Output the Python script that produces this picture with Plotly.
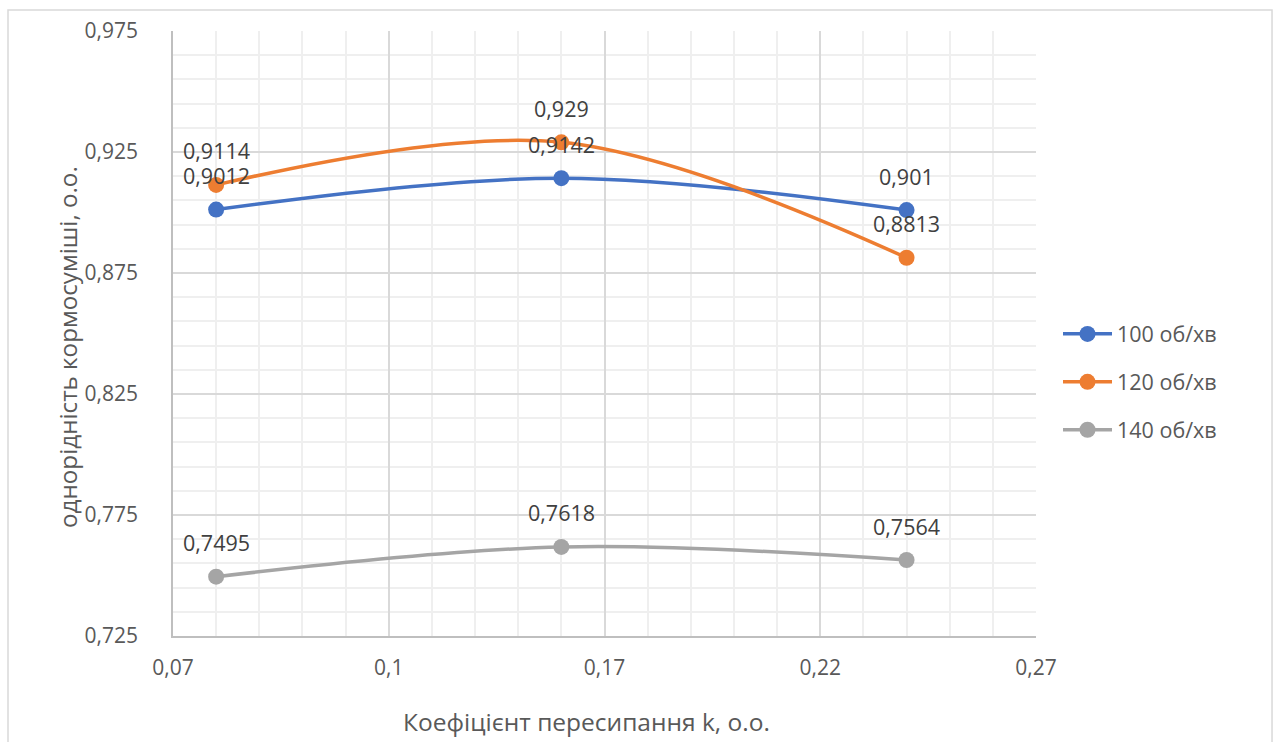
import plotly.graph_objects as go

# Coefficient of re-pouring k (x) and mixture homogeneity (y) for three rotor speeds
k_values = [0.08, 0.16, 0.24]
series_names = ["100 об/хв", "120 об/хв", "140 об/хв"]
homog_100 = [0.9012, 0.9142, 0.901]
homog_120 = [0.9114, 0.929, 0.8813]
homog_140 = [0.7495, 0.7618, 0.7564]

x_tick_vals = [0.07, 0.12, 0.17, 0.22, 0.27]
x_tick_text = ["0,07", "0,1", "0,17", "0,22", "0,27"]

x_title = "Коефіцієнт пересипання k, о.о."
y_title = "однорідність кормосуміші, о.о."

colors = ["#4472C4", "#ED7D31", "#A5A5A5"]
FONT = "Open Sans, Noto Sans, sans-serif"
TEXT_COLOR = "#595959"
LABEL_COLOR = "#404040"


def fmt(v):
    return f"{v:g}".replace(".", ",")


fig = go.Figure()
for i, (name, ys) in enumerate(zip(series_names, [homog_100, homog_120, homog_140])):
    fig.add_trace(go.Scatter(
        x=k_values, y=ys, name=name, mode="lines+markers",
        line=dict(color=colors[i], width=3.5, shape="spline", smoothing=1.0),
        marker=dict(color=colors[i], size=16),
        legendgroup=f"g{i}",
    ))
    # value labels above each point
    for xv, yv in zip(k_values, ys):
        fig.add_annotation(
            x=xv, y=yv, text=fmt(yv), showarrow=False, yshift=34,
            font=dict(family=FONT, size=21.5, color=LABEL_COLOR),
        )

# axis titles
fig.add_annotation(xref="paper", yref="paper", x=0.4797, y=-0.1405,
                   xanchor="center", yanchor="middle", showarrow=False,
                   text=x_title, font=dict(family=FONT, size=24.5, color=TEXT_COLOR))
fig.add_annotation(xref="paper", yref="paper", x=-0.1229, y=0.1752,
                   xanchor="center", yanchor="bottom", showarrow=False, textangle=-90,
                   text=y_title, font=dict(family=FONT, size=24.2, color=TEXT_COLOR))

# outer chart border
fig.add_shape(type="rect", xref="paper", yref="paper",
              x0=-0.1912, x1=1.2735, y0=-0.2, y1=1.0347,
              line=dict(color="#d9d9d9", width=1.5), layer="below")

fig.update_layout(
    width=1279, height=742,
    margin=dict(l=173, r=243, t=31, b=106),
    paper_bgcolor="white", plot_bgcolor="white",
    separators=", ",
    font=dict(family=FONT, size=21, color=TEXT_COLOR),
    showlegend=True,
    legend=dict(x=1.0255, xanchor="left", y=0.42, yanchor="middle",
                traceorder="grouped", tracegroupgap=17,
                font=dict(family=FONT, size=21.5, color=TEXT_COLOR),
                itemwidth=49),
    xaxis=dict(
        range=[0.07, 0.27], tickvals=x_tick_vals, ticktext=x_tick_text,
        tickfont=dict(family=FONT, size=21, color=TEXT_COLOR),
        showgrid=True, gridcolor="#d9d9d9", gridwidth=1.5,
        minor=dict(tick0=0.07, dtick=0.01, showgrid=True, gridcolor="#efefef", gridwidth=1.5),
        showline=True, linecolor="#bfbfbf", linewidth=1.5,
        zeroline=False, ticklabelstandoff=12,
    ),
    yaxis=dict(
        range=[0.725, 0.975], tick0=0.725, dtick=0.05, tickformat=".3f",
        tickfont=dict(family=FONT, size=21, color=TEXT_COLOR),
        showgrid=True, gridcolor="#d9d9d9", gridwidth=1.5,
        minor=dict(tick0=0.725, dtick=0.01, showgrid=True, gridcolor="#efefef", gridwidth=1.5),
        showline=True, linecolor="#bfbfbf", linewidth=1.5,
        zeroline=False, ticklabelstandoff=29,
    ),
)

fig.write_html("out.html")
